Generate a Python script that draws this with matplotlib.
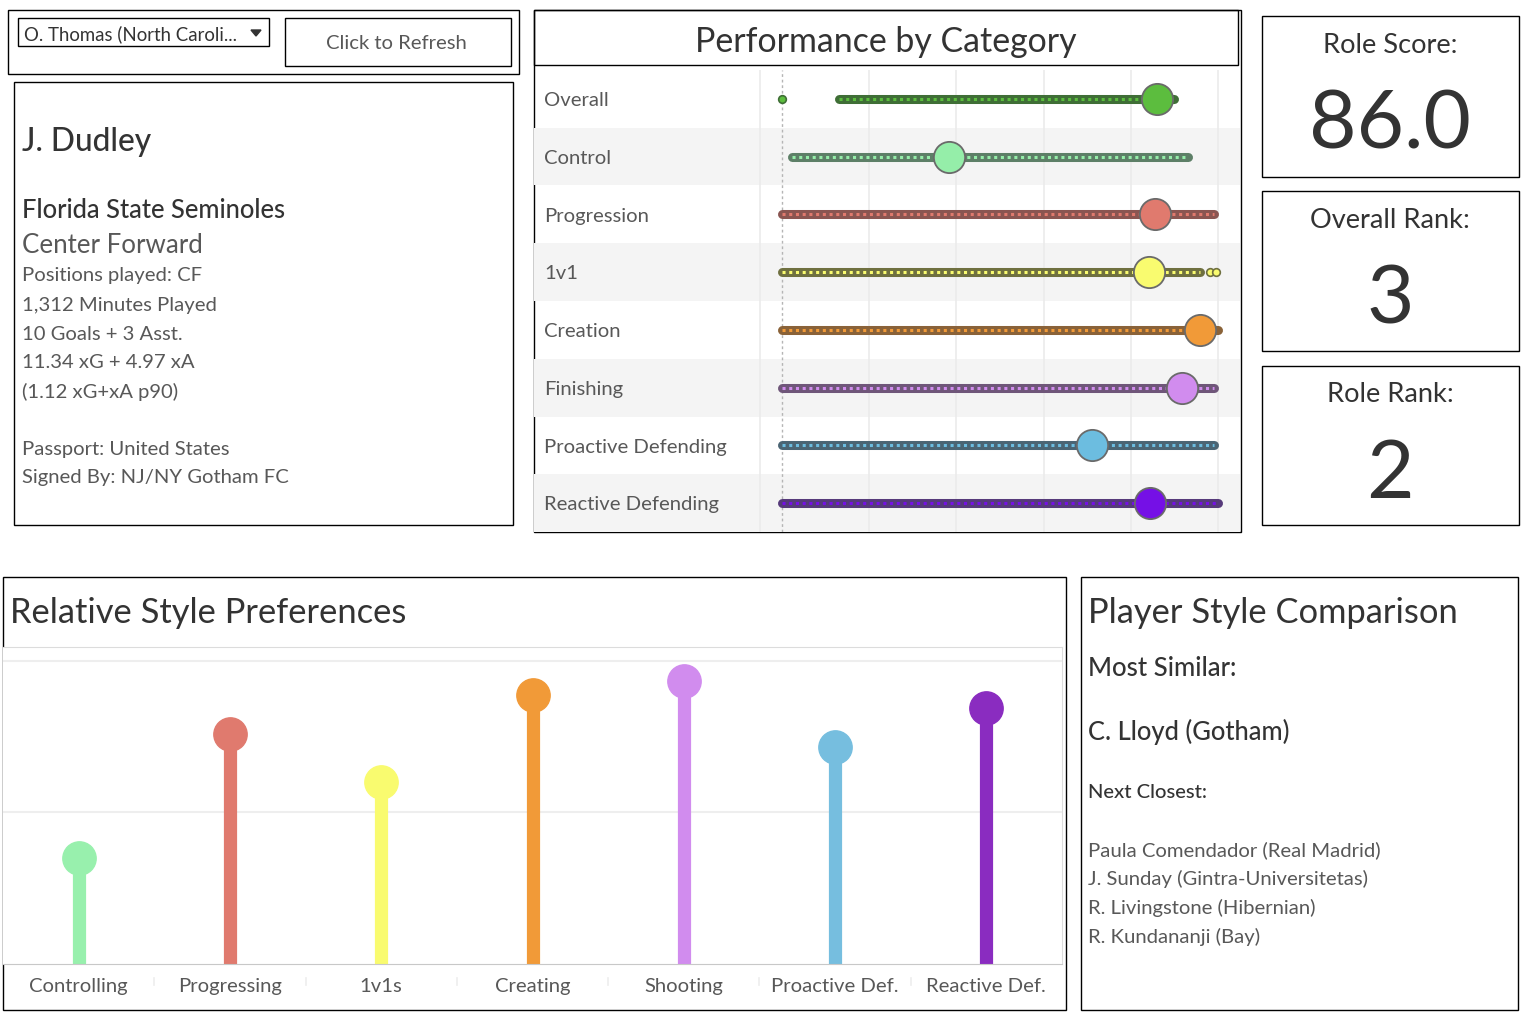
import matplotlib
matplotlib.use("Agg")
import matplotlib.pyplot as plt
from matplotlib.patches import Rectangle, Polygon

plt.rcParams['font.family'] = ['Lato', 'DejaVu Sans']

W, H = 1530, 1018

# ---- data ----
perf_categories = ['Overall', 'Control', 'Progression', '1v1', 'Creation',
                   'Finishing', 'Proactive Defending', 'Reactive Defending']
perf_player = [0.860, 0.383, 0.856, 0.841, 0.959, 0.918, 0.711, 0.843]
perf_range_lo = [0.130, 0.022, 0.0, 0.0, 0.0, 0.0, 0.0, 0.0]
perf_range_hi = [0.900, 0.932, 0.990, 0.958, 1.0, 0.992, 0.992, 1.0]
perf_outliers = [[0.0], [], [], [0.982, 0.995], [], [], [], []]
perf_colors = ['#5cbd3e', '#95eea9', '#e07a6e', '#f9fb6f', '#f19a38',
               '#d18cee', '#6cbde0', '#7510e6']
perf_dark = ['#3f6e36', '#5d7f67', '#8a5551', '#6f7040', '#8a6238',
             '#6f5679', '#4b6574', '#563a7a']

style_categories = ['Controlling', 'Progressing', '1v1s', 'Creating',
                    'Shooting', 'Proactive Def.', 'Reactive Def.']
style_values = [0.697, 1.519, 1.202, 1.774, 1.868, 1.433, 1.686]
style_colors = ['#98f0ad', '#e07a6e', '#f9fb6f', '#f19a38', '#d18cee',
                '#76bedf', '#8a2cc0']

player_lines = ['Positions played: CF', '1,312 Minutes Played', '10 Goals + 3 Asst.',
                '11.34 xG + 4.97 xA', '(1.12 xG+xA p90)']
similar_list = ['Paula Comendador (Real Madrid)', 'J. Sunday (Gintra-Universitetas)',
                'R. Livingstone (Hibernian)', 'R. Kundananji (Bay)']
kpi_labels = ['Role Score:', 'Overall Rank:', 'Role Rank:']
kpi_values = ['86.0', '3', '2']


def frac(x0, y0, x1, y1):
    return [x0 / W, 1 - y1 / H, (x1 - x0) / W, (y1 - y0) / H]


fig = plt.figure(figsize=(W / 100, H / 100), dpi=100)
fig.patch.set_facecolor('white')

# background canvas in pixel coords
bg = fig.add_axes([0, 0, 1, 1])
bg.set_xlim(0, W)
bg.set_ylim(H, 0)
bg.axis('off')


def box(x0, y0, x1, y1, ec='black', lw=1.0):
    bg.add_patch(Rectangle((x0, y0), x1 - x0, y1 - y0, fill=False, ec=ec, lw=lw))


dark = '#333333'
mid = '#585858'

# top-left controls
box(8, 10, 519, 74)
box(18, 18, 269, 46)
bg.text(24, 34, 'O. Thomas (North Caroli...', fontsize=13.4, color=dark, va='center')
bg.add_patch(Polygon([[251, 30], [261, 30], [256, 36]], closed=True, color=dark))
box(285, 18, 511, 66)
bg.text(396, 43, 'Click to Refresh', fontsize=14.6, color=mid, va='center', ha='center')

# player info
box(14, 82, 513, 525)
bg.text(22, 142, 'J. Dudley', fontsize=22.8, color=dark, va='center', fontweight='medium')
bg.text(22, 210, 'Florida State Seminoles', fontsize=18.4, color=dark, va='center',
        fontweight='medium')
bg.text(22, 245, 'Center Forward', fontsize=18.6, color=mid, va='center')
for k, line in enumerate(player_lines):
    bg.text(22, 276 + 29 * k, line, fontsize=14.6, color=mid, va='center')
bg.text(22, 449, 'Passport: United States', fontsize=14.6, color=mid, va='center')
bg.text(22, 478, 'Signed By: NJ/NY Gotham FC', fontsize=14.6, color=mid, va='center')

# KPI boxes
for k, (lab, val) in enumerate(zip(kpi_labels, kpi_values)):
    y0 = [16, 191, 366][k]
    y1 = [177, 351, 525][k]
    box(1262, y0, 1519, y1)
    bg.text(1390, y0 + 29, lab, fontsize=19.6, color=dark, va='center', ha='center')
    bg.text(1390, y0 + 109, val, fontsize=59, color=dark, va='center', ha='center')

# performance panel frame + title
box(534, 10, 1241, 532)
box(534, 10, 1238, 65)
bg.text(886, 42, 'Performance by Category', fontsize=24.4, color=dark, va='center',
        ha='center')

# style preferences panel
box(3, 577, 1066, 1010)
bg.text(10, 613, 'Relative Style Preferences', fontsize=24.8, color=dark, va='center')

# comparison panel
box(1081, 577, 1518, 1010)
bg.text(1088, 613, 'Player Style Comparison', fontsize=24.8, color=dark, va='center')
bg.text(1088, 668, 'Most Similar:', fontsize=18.5, color=dark, va='center', fontweight='medium')
bg.text(1088, 732, 'C. Lloyd (Gotham)', fontsize=18.4, color=dark, va='center',
        fontweight='medium')
bg.text(1088, 792, 'Next Closest:', fontsize=14.6, color=dark, va='center', fontweight='medium')
for k, name in enumerate(similar_list):
    bg.text(1088, 850 + 29 * k, name, fontsize=14.6, color=mid, va='center')

# ---- Performance by Category ----
ax = fig.add_axes(frac(534, 70, 1240, 532))
ax.set_xlim(-0.5688, 1.0505)
ax.set_ylim(len(perf_categories) - 0.5, -0.5)
ax.axis('off')
for i in range(len(perf_categories)):
    if i % 2 == 1:
        ax.axhspan(i - 0.5, i + 0.5, color='#f4f4f4', zorder=0, lw=0)
for g in [0.2, 0.4, 0.6, 0.8, 1.0]:
    ax.axvline(g, color='#ebebeb', lw=1.2, zorder=1)
ax.axvline(-0.0505, color='#ebebeb', lw=1.2, zorder=1)
ax.axvline(0, color='#b5b5b5', lw=1, ls=(0, (2, 2)), zorder=1)

for i, cat in enumerate(perf_categories):
    ax.text(-0.546, i + 0.03, cat, fontsize=14.6, color=mid, va='center')
    lo, hi = perf_range_lo[i], perf_range_hi[i]
    ax.plot([lo, hi], [i, i], color=perf_dark[i], lw=6.5, solid_capstyle='round', zorder=2)
    ax.plot([lo, hi], [i, i], color=perf_colors[i], lw=2.2, ls=(0, (1, 1.2)), zorder=3)
    for o in perf_outliers[i]:
        ax.plot(o, i, 'o', ms=5.5, mfc=perf_colors[i], mec=perf_dark[i], mew=1.2, zorder=3)
    ax.plot(perf_player[i], i, 'o', ms=22.5, mfc=perf_colors[i], mec='#6a6a6a', mew=1.3,
            zorder=4)

# ---- Relative Style Preferences ----
ax2 = fig.add_axes(frac(3, 647, 1062, 964))
ax2.set_xlim(-0.5, len(style_categories) - 0.5)
ax2.set_ylim(0, 2.09)
ax2.spines['left'].set_visible(False)
ax2.spines['top'].set_color('#dcdcdc')
ax2.spines['right'].set_color('#dcdcdc')
ax2.spines['bottom'].set_color('#c8c8c8')
ax2.set_xticks([])
ax2.set_yticks([])
for g in [1, 2]:
    ax2.axhline(g, color='#eeeeee', lw=1.5, zorder=0)
for i, (v, c) in enumerate(zip(style_values, style_colors)):
    ax2.plot([i, i], [0, v], color=c, lw=9.5, solid_capstyle='butt', zorder=2)
    ax2.plot(i, v, 'o', ms=24, color=c, mec=c, zorder=3)
    ax2.text(i, -0.072, style_categories[i], transform=ax2.get_xaxis_transform(),
             fontsize=14.6, color=mid, ha='center', va='center')
for i in range(len(style_categories) - 1):
    ax2.plot([i + 0.5, i + 0.5], [-0.044, -0.066], transform=ax2.get_xaxis_transform(),
             color='#ededed', lw=1.2, clip_on=False)

fig.savefig('out.png', dpi=100, facecolor='white')
